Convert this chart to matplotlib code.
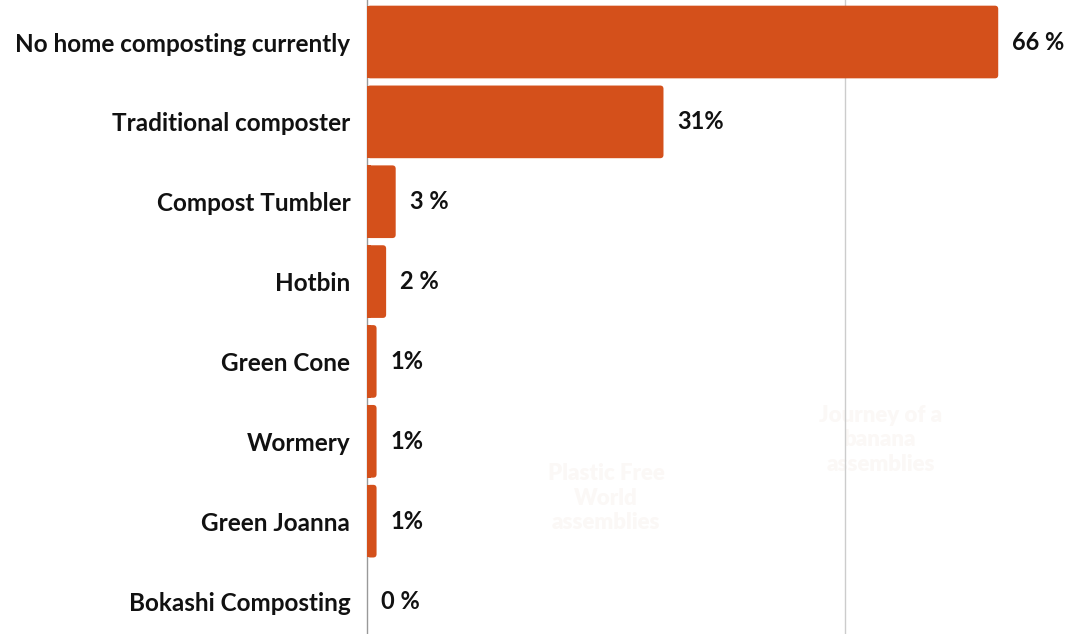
import matplotlib.pyplot as plt
from matplotlib.patches import FancyBboxPatch

categories = ["No home composting currently", "Traditional composter", "Compost Tumbler",
              "Hotbin", "Green Cone", "Wormery", "Green Joanna", "Bokashi Composting"]
values = [66, 31, 3, 2, 1, 1, 1, 0]
value_labels = ["66 %", "31%", "3 %", "2 %", "1%", "1%", "1%", "0 %"]

bar_color = "#d4501b"

fig = plt.figure(figsize=(10.69, 6.34), dpi=100)
ax = fig.add_axes([367 / 1069, 0, 1 - 367 / 1069, 1])

ax.set_xlim(0, 73.4)
ax.set_ylim(7.413, -0.526)

# rounded bars
for i, v in enumerate(values):
    if v <= 0:
        continue
    p = FancyBboxPatch((0, i - 0.455), v, 0.91,
                       boxstyle="round,pad=0,rounding_size=0.35",
                       mutation_aspect=0.12, fc=bar_color, ec="none", zorder=3)
    ax.add_patch(p)
    # square off the left edge
    ax.barh(i, min(v, 0.4), height=0.91, left=0, color=bar_color, zorder=3)

for i, (v, lab) in enumerate(zip(values, value_labels)):
    ax.annotate(lab, (v, i), xytext=(10, 0), textcoords="offset points",
                ha="left", va="center", fontsize=17, fontweight="bold",
                family="Lato", color="#111111")

ax.set_yticks(range(len(categories)))
ax.set_yticklabels(categories, fontsize=17.5, fontweight="bold", family="Lato", color="#111111")
ax.tick_params(axis="y", length=0, pad=12)
ax.set_xticks([50])
ax.tick_params(axis="x", length=0, labelbottom=False)
ax.grid(axis="x", color="#cccccc", linewidth=1, zorder=0)

for s in ["top", "right", "bottom"]:
    ax.spines[s].set_visible(False)
ax.spines["left"].set_color("#999999")
ax.spines["left"].set_linewidth(1)

# faint watermark texts
ax.text(25, 5.71, "Plastic Free\nWorld\nassemblies", ha="center", va="center",
        fontsize=16, fontweight="heavy", family="Lato", color="#fbf8f6", linespacing=1.2, zorder=1)
ax.text(53.7, 4.98, "Journey of a\nbanana\nassemblies", ha="center", va="center",
        fontsize=16, fontweight="heavy", family="Lato", color="#fbf8f6", linespacing=1.2, zorder=1)

fig.savefig("out.png", dpi=100)
